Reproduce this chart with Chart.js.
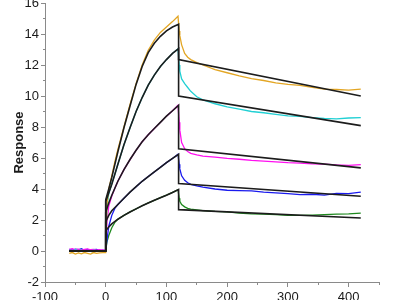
<!DOCTYPE html>
<html>
<head>
<meta charset="utf-8">
<script src="https://cdn.jsdelivr.net/npm/chart.js@4/dist/chart.umd.min.js"></script>
<style>
  html, body { margin: 0; padding: 0; background: #fff; }
  #wrap { width: 400px; height: 300px; }
</style>
</head>
<body>
<div id="wrap"><canvas id="bindingChart" width="400" height="300"></canvas></div>
<script>
// time points (s) for the measured curves
const dataT = [-60, -55, -50, -45, -40, -35, -30, -25, -20, -15, -10, -5, 0,
    2, 5, 10, 15, 20, 30, 40, 50, 60, 70, 80, 90, 100, 110, 119,
    121, 122, 125, 130, 135, 140, 150, 160, 180, 200, 220, 240, 260, 280, 300, 320, 340, 360, 380, 400, 420];

const yellowData = [-0.15, -0.1, -0.2, -0.12, -0.18, -0.1, -0.15, -0.2, -0.1, -0.15, -0.12, -0.1, -0.1,
    3.0, 4.0, 4.85, 5.75, 6.55, 8.0, 9.45, 10.8, 12.0, 12.95, 13.6, 14.1, 14.45, 14.8, 15.15,
    14.2, 13.9, 13.3, 12.75, 12.5, 12.35, 12.15, 12.0, 11.7, 11.5, 11.3, 11.12, 11.0, 10.85, 10.75, 10.68, 10.55, 10.45, 10.42, 10.38, 10.45];
const cyanData = [0.05, 0.0, 0.08, 0.02, 0.05, -0.02, 0.04, 0.0, 0.06, 0.02, 0.03, 0.0, 0.02,
    2.9, 3.7, 4.35, 4.95, 5.6, 6.85, 7.95, 9.0, 9.9, 10.7, 11.35, 11.9, 12.35, 12.75, 13.05,
    12.0, 11.6, 11.1, 10.8, 10.55, 10.3, 9.95, 9.75, 9.5, 9.3, 9.15, 9.0, 8.92, 8.82, 8.72, 8.68, 8.6, 8.55, 8.52, 8.58, 8.6];
const magentaData = [0.1, 0.15, 0.08, 0.12, 0.05, 0.1, 0.14, 0.08, 0.1, 0.05, 0.08, 0.06, 0.05,
    1.8, 2.9, 3.55, 4.05, 4.5, 5.25, 5.9, 6.5, 7.05, 7.5, 7.9, 8.3, 8.7, 9.05, 9.4,
    8.3, 7.8, 7.0, 6.6, 6.42, 6.3, 6.2, 6.12, 6.05, 5.97, 5.92, 5.85, 5.8, 5.75, 5.7, 5.67, 5.62, 5.6, 5.55, 5.53, 5.57];
const blueData = [0.1, 0.05, 0.12, 0.08, 0.15, 0.05, 0.1, 0.04, 0.08, 0.1, 0.02, 0.06, 0.03,
    0.7, 1.6, 2.3, 2.75, 3.0, 3.4, 3.8, 4.15, 4.5, 4.8, 5.1, 5.4, 5.7, 5.97, 6.24,
    5.6, 5.3, 4.85, 4.56, 4.4, 4.3, 4.2, 4.12, 4.0, 3.92, 3.9, 3.88, 3.8, 3.75, 3.7, 3.64, 3.66, 3.6, 3.72, 3.7, 3.8];
const greenData = [0.0, -0.05, 0.02, -0.03, 0.0, -0.04, 0.01, -0.02, -0.05, 0.0, -0.03, -0.01, 0.0,
    0.6, 1.0, 1.5, 1.85, 2.05, 2.3, 2.52, 2.72, 2.92, 3.1, 3.27, 3.44, 3.6, 3.78, 3.95,
    3.4, 3.2, 3.0, 2.85, 2.75, 2.7, 2.65, 2.6, 2.55, 2.52, 2.45, 2.4, 2.38, 2.35, 2.3, 2.3, 2.32, 2.35, 2.38, 2.4, 2.45];

// time points (s) for the fitted curves
const fitT = [-60, 0, 0, 5, 10, 20, 30, 40, 50, 60, 70, 80, 90, 100, 110, 120, 120, 420];
const fitYellow = [0, 0, 3.3, 4.0, 4.75, 6.4, 7.95, 9.35, 10.75, 11.9, 12.8, 13.4, 13.85, 14.2, 14.45, 14.63, 12.35, 10.0];
const fitCyan = [0, 0, 3.2, 3.75, 4.3, 5.6, 6.85, 7.95, 9.0, 9.9, 10.7, 11.35, 11.9, 12.35, 12.75, 13.06, 10.0, 8.09];
const fitMagenta = [0, 0, 2.5, 3.1, 3.6, 4.5, 5.25, 5.9, 6.5, 7.05, 7.5, 7.9, 8.3, 8.7, 9.05, 9.4, 6.6, 5.36];
const fitBlue = [0, 0, 1.9, 2.3, 2.6, 3.0, 3.4, 3.8, 4.15, 4.5, 4.8, 5.1, 5.4, 5.7, 5.97, 6.24, 4.35, 3.53];
const fitGreen = [0, 0, 1.3, 1.55, 1.75, 2.05, 2.3, 2.52, 2.72, 2.92, 3.1, 3.27, 3.44, 3.6, 3.78, 3.96, 2.67, 2.13];

const xMin = -100, xMax = 450;
const yMin = -2, yMax = 16;

const axisGray = '#8a8a8a';
const textColor = '#1a1a1a';

function pairs(ts, vs) {
    return ts.map((t, i) => ({ x: t, y: vs[i] }));
}

function fitLine(values) {
    return {
        data: pairs(fitT, values),
        borderColor: '#1c1c1c',
        borderWidth: 1.6,
        pointRadius: 0,
        fill: false,
        tension: 0
    };
}

function measured(values, color) {
    return {
        data: pairs(dataT, values),
        borderColor: color,
        borderWidth: 1.3,
        pointRadius: 0,
        fill: false,
        tension: 0
    };
}

Chart.defaults.font.family = '"Liberation Sans", Arial, sans-serif';

const ctx = document.getElementById('bindingChart').getContext('2d');
new Chart(ctx, {
    type: 'line',
    data: {
        datasets: [
            // fits first so they are drawn on top
            fitLine(fitYellow),
            fitLine(fitCyan),
            fitLine(fitMagenta),
            fitLine(fitBlue),
            fitLine(fitGreen),
            measured(yellowData, '#e3a624'),
            measured(cyanData, '#22d0d4'),
            measured(magentaData, '#ff10f0'),
            measured(blueData, '#1a1aee'),
            measured(greenData, '#1f8a1f')
        ]
    },
    options: {
        responsive: false,
        animation: false,
        layout: { padding: { top: 3, right: 21, left: 0, bottom: 0 } },
        plugins: {
            legend: { display: false },
            tooltip: { enabled: false }
        },
        scales: {
            x: {
                type: 'linear',
                position: 'bottom',
                weight: 1,
                min: xMin,
                max: xMax,
                ticks: {
                    stepSize: 100,
                    includeBounds: false,
                    color: textColor,
                    font: { size: 13 },
                    padding: 3,
                    maxRotation: 0,
                    autoSkip: false
                },
                grid: { drawOnChartArea: false, tickLength: 5, tickColor: axisGray },
                border: { color: axisGray },
                afterFit: s => { s.height = 18; s.paddingLeft = 0; s.paddingRight = 0; }
            },
            xMinor: {
                type: 'linear',
                position: 'bottom',
                weight: 0,
                min: xMin,
                max: xMax,
                ticks: { stepSize: 50, display: false },
                grid: { drawOnChartArea: false, tickLength: 3, tickColor: axisGray },
                border: { color: axisGray },
                afterFit: s => { s.height = 0; s.paddingLeft = 0; s.paddingRight = 0; }
            },
            y: {
                position: 'left',
                weight: 1,
                min: yMin,
                max: yMax,
                ticks: {
                    stepSize: 2,
                    color: textColor,
                    font: { size: 13 },
                    padding: 2
                },
                grid: { drawOnChartArea: false, tickLength: 4, tickColor: axisGray },
                border: { color: axisGray },
                title: {
                    display: true,
                    text: 'Response',
                    color: textColor,
                    font: { size: 13, weight: 'bold' },
                    padding: { top: 12, bottom: 0 }
                },
                afterFit: s => { s.width = 45; s.paddingTop = 0; s.paddingBottom = 0; }
            },
            yMinor: {
                position: 'left',
                weight: 0,
                min: yMin,
                max: yMax,
                ticks: { stepSize: 1, display: false },
                grid: { drawOnChartArea: false, tickLength: 2, tickColor: axisGray },
                border: { color: axisGray },
                afterFit: s => { s.width = 0; s.paddingTop = 0; s.paddingBottom = 0; }
            }
        }
    }
});
</script>
</body>
</html>
